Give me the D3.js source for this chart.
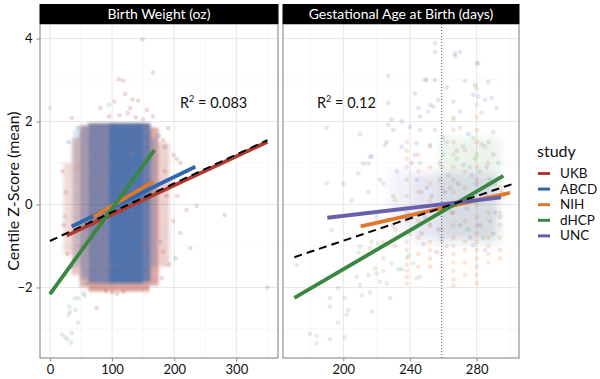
<!DOCTYPE html>
<html>
<head>
<meta charset="utf-8">
<script src="https://cdn.jsdelivr.net/npm/d3@7"></script>
<style>
  body { margin: 0; background: #fff; }
  svg { font-family: Lato, "Open Sans", sans-serif; }
</style>
</head>
<body>
<svg id="chart" width="600" height="379"></svg>
<script>
var studies = ["UKB", "ABCD", "NIH", "dHCP", "UNC"];
var studyColors = ["#b23a2e", "#2d67b0", "#e0782a", "#3a8741", "#6760aa"];

var panelTitles = ["Birth Weight (oz)", "Gestational Age at Birth (days)"];
var r2Labels = ["0.083", "0.12"];
var yTicks = [-2, 0, 2, 4];
var yMinor = [-3, -1, 1, 3];
var weightTicks = [0, 100, 200, 300];
var weightMinor = [50, 150, 250, 350];
var ageTicks = [200, 240, 280];
var ageMinor = [180, 220, 260, 300];
var termDay = 259;

// dense cloud extents: [x0, x1, yLow, yHigh, density]
var ukbWeightBands = [[22,35,-1.2,1.0,1.2],[35,48,-1.7,1.6,1.8],[48,62,-2.0,1.9,2.4],[62,160,-2.1,1.95,3],[160,175,-1.95,1.85,2.8],[175,192,-1.5,1.5,1.5]];
var abcdWeightBands = [[38,50,-1.5,1.8,1.2],[50,62,-1.8,1.9,2.2],[62,95,-1.9,1.95,3.4],[95,150,-1.9,1.95,5],[150,162,-1.85,1.95,4],[162,172,-1.5,1.6,1.5]];
var uncAgeBands = [[242,292,-0.85,0.75,1.0],[228,242,-0.6,0.8,0.5]];
var dhcpAgeBands = [[258,294,-0.9,1.6,0.6]];

// single points outside the dense clouds
var ukbWeightPts = [[149,3.98],[166,3.18],[111,3.02],[118,2.98],[121,2.66],[133,2.53],[104,2.48],[142,2.5],[81,2.32],[156,2.28],[166,2.12],[35,2.08],[129,2.32],[125,2.2],[112,2.15],[138,2.1],[95,2.12],[150,2.05],[190,1.84],[182,1.55],[199,1.19],[210,1.0],[204,1.1],[185,0.8],[195,0.5],[188,0.2],[220,-0.13],[226,-1.05],[210,-0.69],[182,-1.14],[180,-1.78],[281,-0.25],[350,-2.0],[75,-2.5],[100,-2.12],[108,-2.15],[118,-2.1],[90,-2.08],[22,-0.5],[25,0.3],[28,-1.2],[20,0.8],[198,-0.4],[192,-1.45],[205,0.2]];
var abcdWeightPts = [[185,1.39],[236,-0.03],[202,-1.3],[30,1.5],[36,-1.5],[175,1.65],[178,-0.9],[45,1.85]];
var nihWeightPts = [[60,-0.8],[80,0.5],[130,1.2],[150,-1.0],[100,-1.5],[45,0.9]];
var dhcpWeightPts = [[0,2.32],[24,-0.29],[32,-1.5],[24,-1.7],[40,-2.26],[46,-2.26],[31,-2.46],[32,-2.58],[30,-2.66],[41,-2.54],[45,-2.85],[19,-3.13],[24,-3.19],[28,-3.25],[34,-3.33],[35,-3.1],[54,-2.14],[56,-2.2],[60,-1.9],[70,-1.6],[85,-0.5],[110,1.0],[95,2.4],[120,1.5],[140,0.3],[50,-1.0]];

var uncAgePts = [[255,3.88],[255,3.68],[267,3.64],[270,3.68],[267,3.58],[281,3.4],[227,3.1],[250,3.0],[255,3.0],[249,3.0],[273,2.98],[287,2.96],[262,2.82],[279,2.88],[243,2.68],[278,2.64],[281,2.6],[227,2.45],[257,2.52],[266,2.48],[285,2.52],[289,2.56],[245,2.32],[254,2.36],[252,2.4],[251,2.24],[292,2.32],[270,2.24],[246,2.12],[229,2.05],[235,2.0],[230,1.8],[240,1.87],[246,1.8],[190,1.85],[210,1.69],[217,1.15],[212,0.99],[216,1.15],[226,1.51],[227,1.92],[235,1.39],[244,1.47],[225,1.43],[243,1.19],[252,1.43],[260,1.6],[268,1.3],[275,1.7],[283,1.45],[290,1.2],[258,1.0],[272,0.95],[286,0.9],[232,0.8],[222,0.6],[215,0.3],[205,0.1],[200,0.5],[238,-0.2],[230,-0.5],[220,-0.3],[248,-0.95],[262,-1.0],[278,-0.98],[290,-0.7],[294,-0.3],[295,0.3],[285,-1.1],[256,-1.15],[241,1.0],[263,0.7],[280,0.5],[250,0.4],[270,-0.5],[244,0.6],[249,-0.3],[253,0.2],[257,-0.6],[261,0.3],[265,-0.2],[269,0.5],[274,-0.1],[277,0.7],[282,-0.5],[286,0.2],[291,-0.2],[247,-0.7],[259,-0.8],[276,-0.8],[288,0.6]];
var dhcpAgePts = [[215,0.99],[209,0.75],[190,0.52],[172,-1.46],[193,-0.62],[192,-2.26],[192,-2.46],[197,-2.85],[201,-2.26],[203,-2.54],[202,-2.66],[180,-3.12],[184,-3.17],[184,-3.34],[192,-3.25],[201,-3.2],[217,-2.58],[211,-2.18],[216,-2.12],[228,-2.26],[208,-1.74],[210,-1.94],[215,-1.7],[197,-2.02],[209,-1.16],[220,-1.66],[219,-1.54],[222,-1.86],[226,-1.9],[229,-1.42],[233,-1.56],[235,-1.56],[239,-1.24],[244,-1.78],[246,-1.74],[242,-1.42],[221,-0.94],[216,-1.06],[210,-1.02],[255,1.8],[262,1.5],[270,1.85],[278,1.6],[285,1.4],[290,1.75],[293,1.0],[268,1.1],[282,0.8],[258,0.6],[247,0.3],[236,-0.1],[230,0.2],[240,-0.7],[252,-0.5],[275,-0.6],[288,-0.4],[296,0.2],[266,2.05],[283,2.2],[246,1.0],[260,1.2],[272,1.4],[279,1.1],[287,1.5],[264,0.4],[291,0.5],[276,0.9],[284,-0.8]];
// NIH ages come in whole weeks: [day, [z values]]
var nihAgeStreaks = [
  [217,[-0.9,-0.2]],
  [224,[-1.6,-1.3,-0.9,0.5]],
  [231,[-1.0,-0.6,0.1]],
  [238,[-1.9,-1.75,-1.6,-1.45,-1.3,-1.1,-0.9,-0.7,-0.4,0.2,0.6,0.9,1.1,1.3,1.5]],
  [245,[-1.5,-1.2,-0.8,-0.4,0.3,0.8,1.2]],
  [252,[-1.5,-1.3,-1.1,-0.9,-0.5,0.1,0.5,0.9,1.4]],
  [259,[-1.8,-1.5,-1.2,-0.9,-0.6,0.0,0.4,0.9]],
  [266,[-1.95,-1.8,-1.6,-1.4,-1.2,-1.0,-0.8,-0.5,-0.2,0.3,0.6,0.9,1.2,1.5,1.8,2.1]],
  [273,[-1.7,-1.4,-1.1,-0.9,-0.4,0.4,0.8,1.3]],
  [280,[-1.9,-1.7,-1.5,-1.3,-1.1,-0.9,-0.7,-0.5,-0.3,0.0,0.3,0.6,0.9,1.2,1.5,1.8,2.1,2.4,2.8,3.4]],
  [287,[-1.4,-1.2,-1.0,-0.8,-0.2,0.5,1.0]],
  [294,[-1.3,-1.1,-0.8,-0.5,-0.2,0.4]]
];

// fitted lines: [study, x0, y0, x1, y1]
var weightFits = [["UKB",27,-0.75,350,1.51],["ABCD",35,-0.53,234,0.91],["NIH",70,-0.3,166,0.55],["dHCP",0,-2.16,168,1.31]];
var weightOverall = [0,-0.88,350,1.55];
var ageFits = [["NIH",210.4,-0.53,300,0.28],["dHCP",170.6,-2.25,296,0.69],["UNC",190.4,-0.32,294.6,0.17]];
var ageOverall = [170.6,-1.27,302,0.5];

var svg = d3.select("#chart");
var color = d3.scaleOrdinal(studies, studyColors);
var bandOpacity = d3.scaleLinear([0, 5], [0, 1]);

var y = d3.scaleLinear().domain([-3.7, 4.35]).range([358, 24]);
var xWeight = d3.scaleLinear().domain([-16, 367]).range([40, 278]);
var xAge = d3.scaleLinear().domain([163.8, 305.4]).range([283, 519]);

var defs = svg.append("defs");
function addBlur(id, sd) {
  defs.append("filter").attr("id", id)
    .attr("x", "-30%").attr("y", "-30%").attr("width", "160%").attr("height", "160%")
    .append("feGaussianBlur").attr("stdDeviation", sd);
}
addBlur("soft", 1.4);
addBlur("haze", 4);

// dotted texture so the dense clouds read as piles of points
studies.forEach(function(s) {
  var p = defs.append("pattern").attr("id", "dots-" + s)
    .attr("patternUnits", "userSpaceOnUse").attr("width", 4.4).attr("height", 4.4);
  p.append("circle").attr("cx", 1.1).attr("cy", 1.1).attr("r", 2).attr("fill", color(s));
  p.append("circle").attr("cx", 3.3).attr("cy", 3.3).attr("r", 2).attr("fill", color(s));
});

function drawPanel(idx, x, major, minor) {
  var x0 = x.range()[0], x1 = x.range()[1];
  var y0 = 24, y1 = 358;
  var g = svg.append("g");
  defs.append("clipPath").attr("id", "clip" + idx)
    .append("rect").attr("x", x0).attr("y", y0).attr("width", x1 - x0).attr("height", y1 - y0);

  g.selectAll(".vmin").data(minor).join("line")
    .attr("x1", x).attr("x2", x).attr("y1", y0).attr("y2", y1)
    .attr("stroke", "#f2f2f2").attr("stroke-width", 0.6);
  g.selectAll(".hmin").data(yMinor).join("line")
    .attr("x1", x0).attr("x2", x1).attr("y1", y).attr("y2", y)
    .attr("stroke", "#f2f2f2").attr("stroke-width", 0.6);
  g.selectAll(".vmaj").data(major).join("line")
    .attr("x1", x).attr("x2", x).attr("y1", y0).attr("y2", y1)
    .attr("stroke", "#e4e4e4").attr("stroke-width", 0.9);
  g.selectAll(".hmaj").data(yTicks).join("line")
    .attr("x1", x0).attr("x2", x1).attr("y1", y).attr("y2", y)
    .attr("stroke", "#e4e4e4").attr("stroke-width", 0.9);

  var axis = svg.append("g").attr("transform", "translate(0," + (y1 + 0.5) + ")")
    .call(d3.axisBottom(x).tickValues(major).tickSize(3).tickPadding(3));
  axis.select(".domain").remove();
  axis.selectAll("line").attr("stroke", "#888");
  axis.selectAll("text").attr("font-size", 13).attr("fill", "#111")
    .attr("font-family", "Lato, sans-serif");

  var body = svg.append("g").attr("clip-path", "url(#clip" + idx + ")");
  return {g: g, body: body, x0: x0, x1: x1, y0: y0, y1: y1};
}

function drawBands(layer, x, bands, study, filter) {
  layer.append("g").attr("filter", "url(#" + filter + ")")
    .selectAll("rect").data(bands).join("rect")
    .attr("x", function(d) { return x(d[0]); })
    .attr("width", function(d) { return x(d[1]) - x(d[0]); })
    .attr("y", function(d) { return y(d[3]); })
    .attr("height", function(d) { return y(d[2]) - y(d[3]); })
    .attr("fill", "url(#dots-" + study + ")")
    .attr("opacity", function(d) { return bandOpacity(d[4]); });
}

function drawPoints(layer, x, pts, study, alpha) {
  layer.append("g").selectAll("circle").data(pts).join("circle")
    .attr("cx", function(d) { return x(d[0]); })
    .attr("cy", function(d) { return y(d[1]); })
    .attr("r", 2.4)
    .attr("fill", color(study))
    .attr("opacity", alpha);
}

function drawFits(layer, x, fits, overall) {
  layer.selectAll(".fit").data(fits).join("line")
    .attr("x1", function(d) { return x(d[1]); })
    .attr("y1", function(d) { return y(d[2]); })
    .attr("x2", function(d) { return x(d[3]); })
    .attr("y2", function(d) { return y(d[4]); })
    .attr("stroke", function(d) { return color(d[0]); })
    .attr("stroke-width", 3.8);
  layer.append("line")
    .attr("x1", x(overall[0])).attr("y1", y(overall[1]))
    .attr("x2", x(overall[2])).attr("y2", y(overall[3]))
    .attr("stroke", "#000").attr("stroke-width", 2).attr("stroke-dasharray", "8,5");
}

function finishPanel(p, title) {
  svg.append("rect").attr("x", p.x0).attr("y", p.y0).attr("width", p.x1 - p.x0).attr("height", p.y1 - p.y0)
    .attr("fill", "none").attr("stroke", "#888").attr("stroke-width", 1.1);
  svg.append("rect").attr("x", p.x0 - 0.5).attr("y", 4).attr("width", p.x1 - p.x0 + 1).attr("height", 20)
    .attr("fill", "#000");
  svg.append("text").attr("x", (p.x0 + p.x1) / 2).attr("y", 19)
    .attr("text-anchor", "middle").attr("fill", "#fff").attr("font-size", 14)
    .text(title);
}

function r2Text(tx, ty, val) {
  var t = svg.append("text").attr("x", tx).attr("y", ty).attr("font-size", 14.5).attr("fill", "#111");
  t.append("tspan").text("R");
  t.append("tspan").attr("dy", -6).attr("font-size", 9).text("2");
  t.append("tspan").attr("dy", 6).text(" = " + val);
}

// left panel: birth weight
var pw = drawPanel(0, xWeight, weightTicks, weightMinor);
drawBands(pw.body, xWeight, ukbWeightBands, "UKB", "soft");
drawPoints(pw.body, xWeight, ukbWeightPts, "UKB", 0.18);
drawBands(pw.body, xWeight, abcdWeightBands, "ABCD", "soft");
drawPoints(pw.body, xWeight, abcdWeightPts, "ABCD", 0.18);
drawPoints(pw.body, xWeight, nihWeightPts, "NIH", 0.15);
drawPoints(pw.body, xWeight, dhcpWeightPts, "dHCP", 0.15);
drawFits(pw.body, xWeight, weightFits, weightOverall);
finishPanel(pw, panelTitles[0]);
r2Text(180, 108, r2Labels[0]);

// right panel: gestational age
var pa = drawPanel(1, xAge, ageTicks, ageMinor);
drawBands(pa.body, xAge, dhcpAgeBands, "dHCP", "haze");
drawBands(pa.body, xAge, uncAgeBands, "UNC", "haze");
var nihAgePts = [];
nihAgeStreaks.forEach(function(s) {
  s[1].forEach(function(v) { nihAgePts.push([s[0], v]); });
});
drawPoints(pa.body, xAge, dhcpAgePts, "dHCP", 0.14);
drawPoints(pa.body, xAge, nihAgePts, "NIH", 0.17);
drawPoints(pa.body, xAge, uncAgePts, "UNC", 0.16);
pa.body.append("line")
  .attr("x1", xAge(termDay)).attr("x2", xAge(termDay)).attr("y1", pa.y0).attr("y2", pa.y1)
  .attr("stroke", "#555").attr("stroke-width", 1).attr("stroke-dasharray", "1,2");
drawFits(pa.body, xAge, ageFits, ageOverall);
finishPanel(pa, panelTitles[1]);
r2Text(317, 108, r2Labels[1]);

// y axis
var yAxis = svg.append("g").attr("transform", "translate(39.5,0)")
  .call(d3.axisLeft(y).tickValues(yTicks).tickSize(3).tickPadding(4));
yAxis.select(".domain").remove();
yAxis.selectAll("line").attr("stroke", "#888");
yAxis.selectAll("text").attr("font-size", 13).attr("fill", "#111")
  .attr("font-family", "Lato, sans-serif");

svg.append("text")
  .attr("transform", "translate(19,191) rotate(-90)")
  .attr("text-anchor", "middle").attr("font-size", 16).attr("fill", "#111")
  .text("Centile Z-Score (mean)");

// legend
var legend = svg.append("g").attr("transform", "translate(537,0)");
legend.append("text").attr("x", 0).attr("y", 157).attr("font-size", 16).attr("fill", "#111").text("study");
var item = legend.selectAll(".item").data(studies).join("g")
  .attr("transform", function(d, i) { return "translate(0," + (173.5 + i * 15.6) + ")"; });
item.append("line").attr("x1", 1).attr("x2", 13).attr("y1", 0).attr("y2", 0)
  .attr("stroke", function(d) { return color(d); }).attr("stroke-width", 3);
item.append("text").attr("x", 23).attr("y", 4.5).attr("font-size", 13.5).attr("fill", "#111")
  .text(function(d) { return d; });
</script>
</body>
</html>
